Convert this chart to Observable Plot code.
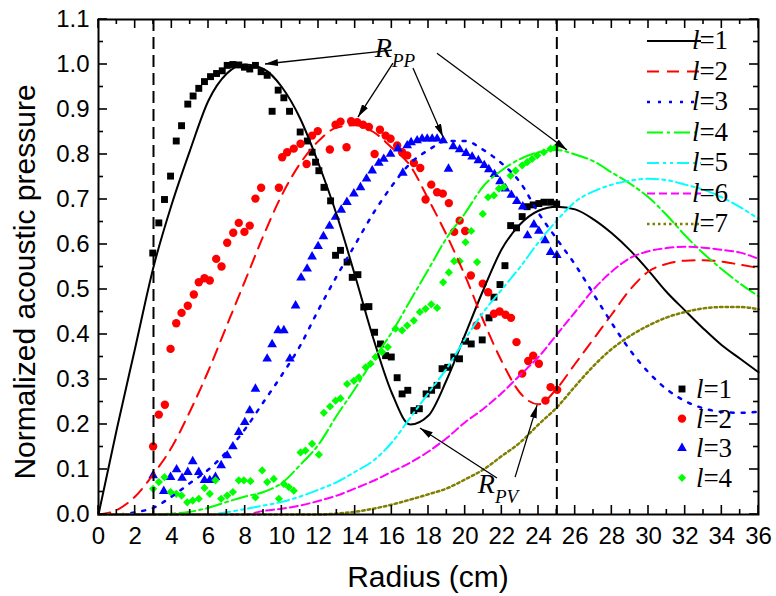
<!DOCTYPE html>
<html><head><meta charset="utf-8">
<script src="https://cdn.jsdelivr.net/npm/d3@7"></script>
<script src="https://cdn.jsdelivr.net/npm/@observablehq/plot@0.6"></script>
<style>body{margin:0;background:#fff}svg{display:block}</style>
</head><body><div id="chart"></div>
<script>
// ---------- data ----------
const radius = [0,1,2,3,4,5,6,7,8,9,10,11,12,13,14,15,16,17,18,19,20,21,22,23,24,25,26,27,28,29,30,31,32,33,34,35,36];
const theoryL1 = [0,0.19,0.37,0.55,0.69,0.81,0.92,0.98,1.0,0.99,0.95,0.88,0.78,0.665,0.53,0.39,0.27,0.20,0.22,0.30,0.40,0.50,0.59,0.645,0.675,0.684,0.678,0.656,0.625,0.587,0.542,0.494,0.453,0.413,0.376,0.346,0.316];
const theoryL2 = [0,0.01,0.04,0.09,0.15,0.23,0.32,0.42,0.52,0.62,0.71,0.78,0.83,0.86,0.865,0.85,0.815,0.775,0.70,0.62,0.53,0.43,0.34,0.27,0.245,0.28,0.335,0.39,0.445,0.50,0.54,0.557,0.564,0.565,0.562,0.555,0.548];
const theoryL3 = [0,0,0.005,0.015,0.04,0.07,0.10,0.14,0.19,0.25,0.31,0.375,0.455,0.53,0.60,0.67,0.73,0.78,0.81,0.83,0.83,0.81,0.78,0.738,0.67,0.612,0.555,0.49,0.425,0.365,0.316,0.278,0.252,0.236,0.228,0.226,0.228];
const theoryL4 = [0,0,0,0,0.002,0.006,0.015,0.028,0.04,0.05,0.07,0.11,0.155,0.22,0.28,0.345,0.405,0.475,0.545,0.615,0.67,0.73,0.765,0.79,0.805,0.81,0.80,0.785,0.76,0.735,0.705,0.665,0.62,0.58,0.545,0.513,0.485];
const theoryL5 = [0,0,0,0,0,0,0,0.005,0.012,0.02,0.028,0.04,0.055,0.072,0.095,0.12,0.16,0.215,0.27,0.325,0.39,0.45,0.50,0.55,0.605,0.653,0.695,0.718,0.733,0.742,0.746,0.743,0.733,0.722,0.705,0.683,0.657];
const theoryL6 = [0,0,0,0,0,0,0,0,0,0.008,0.013,0.02,0.03,0.042,0.058,0.075,0.095,0.115,0.14,0.17,0.205,0.235,0.27,0.31,0.35,0.40,0.45,0.50,0.54,0.57,0.585,0.592,0.595,0.593,0.588,0.582,0.568];
const theoryL7 = [0,0,0,0,0,0,0,0,0,0,0,0,0,0.002,0.006,0.013,0.022,0.033,0.045,0.058,0.078,0.10,0.13,0.16,0.20,0.238,0.285,0.33,0.368,0.397,0.42,0.438,0.45,0.458,0.461,0.461,0.456];

const measL1X = [2.96,3.29,3.60,3.93,4.24,4.53,4.87,5.16,5.47,5.78,6.11,6.44,6.75,7.02,7.33,7.65,7.96,8.25,8.56,8.87,9.20,9.47,9.80,10.11,10.42,11.00,11.39,11.65,11.84,12.02,12.30,12.66,12.93,13.20,13.56,13.84,14.15,14.47,14.75,15.06,15.38,15.66,15.97,16.29,16.56,16.87,17.20,17.50,17.87,18.17,18.47,18.74,19.05,19.38,19.69,20.02,20.33,20.93,21.30,21.57,21.90,22.17,22.48,22.80,23.11,23.38,23.71,24.02,24.30,24.66,24.99];
const measL1Y = [0.581,0.648,0.700,0.752,0.830,0.864,0.912,0.930,0.947,0.962,0.973,0.980,0.986,0.998,1.000,0.999,0.994,0.990,0.998,0.984,0.976,0.896,0.943,0.926,0.896,0.850,0.830,0.805,0.783,0.764,0.727,0.697,0.576,0.587,0.561,0.527,0.533,0.461,0.462,0.405,0.379,0.353,0.350,0.304,0.268,0.276,0.231,0.235,0.268,0.276,0.287,0.324,0.327,0.350,0.346,0.385,0.379,0.388,0.437,0.483,0.511,0.553,0.642,0.637,0.662,0.684,0.688,0.691,0.694,0.694,0.690];
const measL2X = [2.98,3.29,3.62,3.93,4.24,4.53,4.87,5.20,5.47,5.78,6.07,6.42,6.71,7.02,7.35,7.65,7.96,8.25,8.56,8.87,9.84,10.02,10.29,10.65,11.02,11.35,11.65,11.96,12.62,12.93,13.20,13.53,13.78,14.11,14.43,14.75,15.06,15.35,15.66,15.93,16.29,16.56,16.84,17.20,17.55,17.84,18.15,18.47,18.78,19.11,19.40,19.70,20.00,20.31,20.62,20.96,21.25,21.57,21.88,22.20,22.50,22.80,23.11,23.44,23.71,24.02,24.38,24.66,25.02];
const measL2Y = [0.151,0.222,0.244,0.368,0.425,0.448,0.464,0.489,0.516,0.525,0.520,0.568,0.551,0.604,0.626,0.648,0.628,0.642,0.702,0.726,0.726,0.794,0.805,0.813,0.824,0.779,0.842,0.852,0.811,0.866,0.873,0.816,0.874,0.872,0.866,0.861,0.801,0.855,0.842,0.835,0.820,0.805,0.798,0.781,0.770,0.700,0.733,0.716,0.713,0.692,0.628,0.653,0.630,0.531,0.420,0.513,0.494,0.446,0.451,0.444,0.437,0.383,0.313,0.341,0.353,0.335,0.253,0.283,0.277];
const measL3X = [2.98,3.56,3.93,4.26,4.56,4.87,5.14,5.47,5.78,6.07,6.38,6.69,7.02,7.33,7.65,7.98,8.25,8.56,9.20,9.47,9.80,10.11,10.44,10.75,11.05,11.38,11.65,11.98,12.27,12.60,12.93,13.24,13.55,13.93,14.29,14.62,14.93,15.29,15.56,15.93,16.33,16.60,16.84,17.05,17.38,17.65,17.93,18.20,18.47,18.80,19.09,19.35,19.70,20.05,20.38,20.72,21.04,21.29,21.60,21.90,22.20,22.52,22.82,23.14,23.40,23.75,24.02,24.36,24.66,25.00];
const measL3Y = [0.087,0.052,0.083,0.100,0.081,0.094,0.118,0.094,0.076,0.076,0.083,0.109,0.131,0.151,0.183,0.205,0.231,0.279,0.346,0.378,0.409,0.409,0.346,0.464,0.526,0.546,0.573,0.596,0.618,0.641,0.661,0.677,0.694,0.713,0.727,0.746,0.764,0.781,0.790,0.801,0.813,0.759,0.820,0.827,0.831,0.835,0.835,0.835,0.835,0.831,0.768,0.818,0.811,0.803,0.795,0.787,0.776,0.767,0.756,0.740,0.724,0.710,0.696,0.684,0.620,0.644,0.630,0.609,0.583,0.576];
const measL4X = [2.98,3.29,3.60,3.93,4.24,4.53,4.84,5.14,5.47,5.78,6.07,6.38,6.69,7.02,7.33,7.65,7.93,8.29,8.56,8.93,9.20,9.56,9.84,10.11,10.38,10.65,11.02,11.29,11.65,12.02,12.29,12.63,12.93,13.20,13.56,13.93,14.20,14.57,14.84,15.11,15.47,15.78,16.20,16.56,16.84,17.20,17.53,17.84,18.15,18.47,18.80,19.11,19.40,19.70,20.02,20.33,20.65,20.96,21.25,21.57,21.84,22.11,22.48,22.75,23.11,23.38,23.65,23.93,24.29,24.66,24.93];
const measL4Y = [0.057,0.072,0.083,0.050,0.046,0.042,0.027,0.031,0.035,0.059,0.046,0.076,0.035,0.042,0.050,0.076,0.076,0.074,0.038,0.098,0.072,0.079,0.035,0.068,0.061,0.053,0.138,0.142,0.157,0.133,0.226,0.240,0.253,0.258,0.290,0.297,0.305,0.327,0.335,0.350,0.361,0.372,0.413,0.409,0.420,0.431,0.450,0.457,0.467,0.459,0.516,0.538,0.563,0.563,0.605,0.630,0.561,0.668,0.705,0.709,0.724,0.728,0.753,0.764,0.776,0.783,0.790,0.798,0.805,0.813,0.816];

const seriesNames = ["1","2","3","4","5","6","7"];
const boundaryRadii = [3, 25];
const xTicks = [0,2,4,6,8,10,12,14,16,18,20,22,24,26,28,30,32,34,36];
const yTicks = [0.0,0.1,0.2,0.3,0.4,0.5,0.6,0.7,0.8,0.9,1.0,1.1];

// ---------- styles ----------
const lineStyles = [
  {color:"#000000", dash:null, w:2},
  {color:"#ff0000", dash:"12,8", w:2},
  {color:"#0000ff", dash:"3,8", w:2.5},
  {color:"#00ff00", dash:"16,4,3,4", w:2},
  {color:"#00ffff", dash:"12,4,3,4,3,4", w:2},
  {color:"#ff00ff", dash:"8,4", w:2},
  {color:"#808000", dash:"2.5,3", w:2.5}
];
const theories = [theoryL1,theoryL2,theoryL3,theoryL4,theoryL5,theoryL6,theoryL7];
const meas = [
  {xs:measL1X, ys:measL1Y, symbol:"square", color:"#000000", r:3.9},
  {xs:measL2X, ys:measL2Y, symbol:"circle", color:"#ff0000", r:4.2},
  {xs:measL3X, ys:measL3Y, symbol:"triangle", color:"#0000ff", r:3.6},
  {xs:measL4X, ys:measL4Y, symbol:"diamond2", color:"#00ff00", r:3.7}
];

const marks = [];
meas.forEach(m => {
  const pts = m.xs.map((x,i) => ({x, y:m.ys[i]}));
  marks.push(Plot.dot(pts, {x:"x", y:"y", symbol:m.symbol, fill:m.color, stroke:"none", r:m.r}));
});
theories.forEach((t,k) => {
  const pts = radius.map((x,i) => ({x, y:t[i]}));
  const s = lineStyles[k];
  marks.push(Plot.line(pts, {x:"x", y:"y", stroke:s.color, strokeWidth:s.w, strokeDasharray:s.dash, curve:"monotone-x"}));
});
marks.push(Plot.ruleX(boundaryRadii, {stroke:"black", strokeWidth:2, strokeDasharray:"12,6"}));
marks.push(Plot.frame({stroke:"black", strokeWidth:2}));

const chart = Plot.plot({
  width:776, height:596,
  marginLeft:98, marginRight:18, marginTop:19, marginBottom:82,
  style:{fontFamily:"'Liberation Sans', Arial, sans-serif", fontSize:"24px", background:"white", color:"black"},
  x:{domain:[0,36], ticks:xTicks, tickSize:0, tickPadding:12, label:null, tickFormat:d=>String(d)},
  y:{domain:[0,1.1], ticks:yTicks, tickSize:0, tickPadding:9, label:null, tickFormat:d3.format(".1f")},
  marks
});
document.getElementById("chart").appendChild(chart);

// ---------- decorations through the plot scales ----------
const sx = chart.scale("x"), sy = chart.scale("y");
const X = v => sx.apply(v), Y = v => sy.apply(v);
const svg = d3.select(chart);
const yb = Y(0), yt = Y(1.1), xl = X(0), xr = X(36);

// inward ticks on all four sides
const tg = svg.append("g").attr("stroke","black").attr("stroke-width",1.6);
d3.range(0,37,1).forEach(v => {
  const len = v % 2 === 0 ? 9 : 5;
  tg.append("line").attr("x1",X(v)).attr("x2",X(v)).attr("y1",yb).attr("y2",yb-len);
  tg.append("line").attr("x1",X(v)).attr("x2",X(v)).attr("y1",yt).attr("y2",yt+len);
});
d3.range(0,23,1).forEach(i => {
  const v = i*0.05, len = i % 2 === 0 ? 9 : 5;
  tg.append("line").attr("y1",Y(v)).attr("y2",Y(v)).attr("x1",xl).attr("x2",xl+len);
  tg.append("line").attr("y1",Y(v)).attr("y2",Y(v)).attr("x1",xr).attr("x2",xr-len);
});

// axis titles
svg.append("text").attr("x",(xl+xr)/2).attr("y",587).attr("text-anchor","middle")
  .attr("font-family","'Liberation Sans', Arial, sans-serif").attr("font-size",30).attr("fill","black").text("Radius (cm)");
svg.append("text").attr("transform","translate(35,282) rotate(-90)").attr("text-anchor","middle")
  .attr("font-family","'Liberation Sans', Arial, sans-serif").attr("font-size",30).attr("fill","black").text("Normalized acoustic pressure");

// annotations (data coordinates)
const defs = svg.append("defs");
defs.append("marker").attr("id","ah").attr("markerUnits","userSpaceOnUse")
  .attr("viewBox","0 0 13 7").attr("refX",13).attr("refY",3.5)
  .attr("markerWidth",13).attr("markerHeight",7).attr("orient","auto")
  .append("path").attr("d","M0,0L13,3.5L0,7Z").attr("fill","black");
const arrowsPP = [[16.04,1.031,9.11,1.0],[16.09,1.002,14.18,0.882],[17.18,0.991,18.82,0.838],[18.49,1.024,25.58,0.809]];
const arrowsPV = [[21.76,0.080,17.56,0.191],[22.75,0.082,23.95,0.242]];
const ag = svg.append("g").attr("stroke","black").attr("stroke-width",1.3);
arrowsPP.concat(arrowsPV).forEach(a => {
  ag.append("line").attr("x1",X(a[0])).attr("y1",Y(a[1])).attr("x2",X(a[2])).attr("y2",Y(a[3])).attr("marker-end","url(#ah)");
});
const serif = "'Liberation Serif', 'Times New Roman', serif";
function rLabel(x, y, sub) {
  const t = svg.append("text").attr("x",X(x)).attr("y",Y(y)).attr("font-family",serif).attr("font-style","italic").attr("fill","black");
  t.append("tspan").attr("font-size",28).text("R");
  t.append("tspan").attr("font-size",19).attr("dy",10).text(sub);
}
rLabel(16.2, 1.016, "PP");
rLabel(21.82, 0.047, "PV");

// legends
function lLabel(x, y, n) {
  const t = svg.append("text").attr("x",x).attr("y",y).attr("font-family",serif).attr("font-size",27).attr("fill","black");
  t.append("tspan").attr("font-style","italic").text("l");
  t.append("tspan").text("=" + n);
}
seriesNames.forEach((n,k) => {
  const yy = 41 + k*30.5, s = lineStyles[k];
  svg.append("line").attr("x1",647).attr("x2",701).attr("y1",yy).attr("y2",yy)
    .attr("stroke",s.color).attr("stroke-width",s.w).attr("stroke-dasharray",s.dash);
  lLabel(710, yy+8, n);
});
const symMap = {square:d3.symbolSquare, circle:d3.symbolCircle, triangle:d3.symbolTriangle, diamond2:d3.symbolDiamond2};
meas.forEach((m,k) => {
  const yy = 389 + k*29.6;
  svg.append("path").attr("transform",`translate(682,${yy})`)
    .attr("d", d3.symbol(symMap[m.symbol], Math.PI*m.r*m.r)()).attr("fill",m.color);
  lLabel(714, yy+9, seriesNames[k]);
});
</script></body></html>
